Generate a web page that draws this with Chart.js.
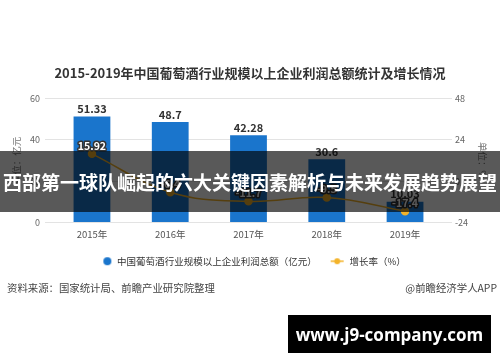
<!DOCTYPE html>
<html><head><meta charset="utf-8">
<script src="https://cdn.jsdelivr.net/npm/chart.js@4.4.1/dist/chart.umd.min.js"></script>
<style>
html,body{margin:0;padding:0;background:#fff;}
#wrap{position:relative;width:500px;height:362px;overflow:hidden;background:#fff;}
#c{position:absolute;left:0;top:0;}
.banner{position:absolute;left:0;top:151px;width:500px;height:61px;background:rgba(0,0,0,0.65);color:#fff;font-family:"Noto Sans CJK SC";font-weight:700;font-size:19px;display:flex;align-items:center;justify-content:center;white-space:nowrap;letter-spacing:0px;}
.src{position:absolute;top:281px;font-family:"Noto Sans CJK SC";font-size:10.4px;color:#444;white-space:nowrap;line-height:14px;}
.box{position:absolute;left:288px;top:315px;width:203px;height:38px;background:#000;color:#fff;font-family:"Open Sans";font-weight:700;font-size:17px;display:flex;align-items:center;justify-content:center;}
</style></head>
<body>
<div id="wrap">
<canvas id="c" width="500" height="362"></canvas>
<div class="banner">西部第一球队崛起的六大关键因素解析与未来发展趋势展望</div>
<div class="src" style="left:7px;">资料来源：国家统计局、前瞻产业研究院整理</div>
<div class="src" style="right:3px;">@前瞻经济学人APP</div>
<div class="box">www.j9-company.com</div>
</div>
<script>
const categories = ['2015年', '2016年', '2017年', '2018年', '2019年'];
const profit = [51.33, 48.7, 42.28, 30.6, 10.03];
const growth = [15.92, -6.4, -11.7, -9.5, -17.4];
const leftTicks = [0, 20, 40, 60];
const rightTicks = [-24, 0, 24, 48];
const barLabel = '中国葡萄酒行业规模以上企业利润总额（亿元）';
const lineLabel = '增长率（%）';
const titleText = '2015-2019年中国葡萄酒行业规模以上企业利润总额统计及增长情况';

const BLUE = '#1a75cc';
const GOLD = '#f3b32a';
const CJK = '"Noto Sans CJK SC", "Noto Sans", sans-serif';

function makeIcon(kind) {
  const c = document.createElement('canvas');
  c.width = 18; c.height = 10;
  const g = c.getContext('2d');
  if (kind === 'circle') {
    g.fillStyle = BLUE;
    g.beginPath(); g.arc(13, 5, 4, 0, Math.PI * 2); g.fill();
  } else {
    g.strokeStyle = GOLD; g.lineWidth = 1.5;
    g.beginPath(); g.moveTo(4, 5); g.lineTo(17, 5); g.stroke();
    g.fillStyle = GOLD;
    g.beginPath(); g.arc(10.5, 5, 3, 0, Math.PI * 2); g.fill();
  }
  return c;
}
const icons = [makeIcon('circle'), makeIcon('line')];

const labelPlugin = {
  id: 'valueLabels',
  afterDatasetsDraw(chart) {
    const ctx = chart.ctx;
    ctx.save();
    const m0 = chart.getDatasetMeta(0);
    ctx.font = 'bold 11px ' + CJK;
    ctx.fillStyle = '#333';
    ctx.textAlign = 'center';
    ctx.textBaseline = 'bottom';
    m0.data.forEach((el, i) => {
      ctx.fillText(String(profit[i]), el.x, el.y - 2);
    });
    const m1 = chart.getDatasetMeta(1);
    ctx.font = 'bold 10.5px ' + CJK;
    ctx.lineJoin = 'round';
    m1.data.forEach((el, i) => {
      const t = String(growth[i]);
      ctx.lineWidth = 3;
      ctx.strokeStyle = '#333';
      ctx.strokeText(t, el.x, el.y - 3);
      ctx.fillStyle = '#fff';
      ctx.fillText(t, el.x, el.y - 3);
    });
    ctx.restore();
  }
};

new Chart(document.getElementById('c'), {
  data: {
    datasets: [
      {
        type: 'bar',
        label: barLabel,
        data: categories.map((c, i) => ({ x: i, y: profit[i] })),
        backgroundColor: BLUE,
        yAxisID: 'y',
        categoryPercentage: 1,
        barPercentage: 0.47,
        order: 2
      },
      {
        type: 'line',
        label: lineLabel,
        data: categories.map((c, i) => ({ x: i, y: growth[i] })),
        borderColor: GOLD,
        backgroundColor: GOLD,
        borderWidth: 1.5,
        pointRadius: 3.5,
        pointBackgroundColor: GOLD,
        pointBorderColor: GOLD,
        tension: 0.4,
        yAxisID: 'y1',
        order: 1
      }
    ]
  },
  options: {
    responsive: false,
    devicePixelRatio: 1,
    animation: false,
    layout: { padding: { top: 0, left: 0, right: 0, bottom: 86 } },
    plugins: {
      tooltip: { enabled: false },
      title: {
        display: true,
        text: titleText,
        color: '#333',
        font: { family: CJK, size: 13, weight: 'bold' },
        padding: { top: 65, bottom: 18 }
      },
      legend: {
        display: true,
        position: 'bottom',
        labels: {
          usePointStyle: true,
          pointStyleWidth: 18,
          boxHeight: 10,
          padding: 10,
          color: '#333',
          font: { family: CJK, size: 9.5 },
          generateLabels: (chart) => chart.data.datasets.map((ds, i) => ({
            text: ds.label,
            fillStyle: i === 0 ? BLUE : GOLD,
            strokeStyle: i === 0 ? BLUE : GOLD,
            lineWidth: 0,
            pointStyle: icons[i],
            hidden: false,
            datasetIndex: i,
            fontColor: '#333'
          }))
        }
      }
    },
    scales: {
      x: {
        type: 'linear',
        position: 'bottom',
        min: -0.6,
        max: 4.6,
        bounds: 'data',
        offset: false,
        grid: { display: false, drawTicks: false, offset: false },
        border: { display: false },
        afterBuildTicks: (s) => { s.ticks = categories.map((c, i) => ({ value: i })); },
        afterFit: (s) => { s.height = 24; },
        ticks: {
          autoSkip: false,
          maxRotation: 0,
          padding: 6,
          color: '#555',
          font: { family: CJK, size: 9.5 },
          callback: (v) => categories[v] ?? ''
        }
      },
      y: {
        position: 'left',
        min: leftTicks[0],
        max: leftTicks[leftTicks.length - 1],
        afterBuildTicks: (s) => { s.ticks = leftTicks.map(v => ({ value: v })); },
        afterFit: (s) => { s.width = 45; },
        grid: { color: '#e3e3e3', drawTicks: false },
        border: { display: false },
        ticks: { padding: 5, color: '#666', font: { family: CJK, size: 9 } },
        title: {
          display: true,
          text: '单位：亿元',
          color: '#777',
          font: { family: CJK, size: 9.5 },
          padding: { top: 11, bottom: 0 }
        }
      },
      y1: {
        position: 'right',
        min: rightTicks[0],
        max: rightTicks[rightTicks.length - 1],
        afterBuildTicks: (s) => { s.ticks = rightTicks.map(v => ({ value: v })); },
        afterFit: (s) => { s.width = 48; },
        grid: { drawOnChartArea: false, drawTicks: false },
        border: { display: false },
        ticks: { padding: 3, color: '#666', font: { family: CJK, size: 9 } },
        title: {
          display: true,
          text: '单位：%',
          color: '#777',
          font: { family: CJK, size: 9.5 },
          padding: { top: 12, bottom: 0 }
        }
      }
    }
  },
  plugins: [labelPlugin]
});
</script>
</body></html>
